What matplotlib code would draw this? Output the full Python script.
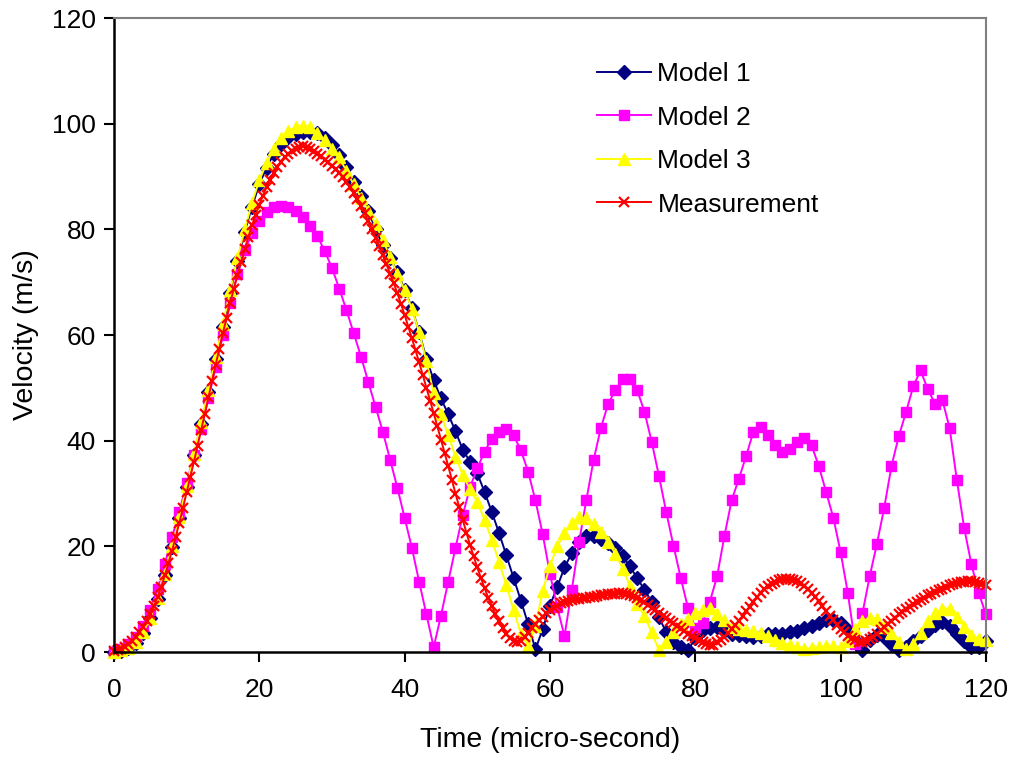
import numpy as np
import matplotlib
matplotlib.use("Agg")
import matplotlib.pyplot as plt

plt.rcParams['font.family'] = ['Liberation Sans', 'DejaVu Sans']

# time axes (micro-second)
t_model = np.arange(0, 121, 1)
t_meas = np.arange(0, 120.5, 0.5)

model1 = [0, 0.2, 0.7, 1.7, 3.6, 6.4, 10, 14.6, 19.8, 25.3,
          31.2, 37.2, 43.2, 49.2, 55.4, 61.6, 68, 74, 79.5, 84.3,
          88.5, 91.7, 94.3, 96.2, 97.4, 98.1, 98.4, 98.5, 98.2, 97.3,
          96, 94, 91.8, 89, 86.3, 83.5, 80, 77, 74.5, 72,
          68.5, 65.2, 60.5, 55.5, 51.5, 48, 45, 41.8, 38.3, 36,
          33.8, 30.3, 26.5, 22.5, 18.3, 14, 9.7, 5.3, 0.5, 4.3,
          8.8, 12.3, 16, 18.7, 20.8, 22, 22, 21.3, 20.6, 19.6,
          18.1, 16.2, 14, 11.8, 9.5, 6.6, 3.7, 1.9, 0.9, 0.3,
          2.6, 4.1, 4.6, 4.7, 4, 3.5, 3.2, 3, 2.8, 3.1,
          3.5, 3.5, 3.5, 3.8, 4, 4.5, 5, 5.5, 6, 6,
          5.5, 4.1, 2.2, 0.3, 2.2, 3.2, 2.8, 1.6, 0.3, 1,
          2, 3, 4.2, 5.2, 5.7, 5, 3.5, 2, 1, 1,
          2]

model2 = [0, 0.5, 1.5, 2.8, 5, 8, 12, 16.7, 21.8, 26.5,
          32, 37.2, 42.3, 48, 54, 60, 66, 71.5, 76, 79.3,
          81.5, 83.2, 84.2, 84.5, 84.2, 83.5, 82.3, 80.7, 78.7, 75.9,
          72.7, 68.8, 64.7, 60.3, 55.9, 51.1, 46.4, 41.7, 36.4, 31.1,
          25.4, 19.7, 13.3, 7.1, 0.9, 6.9, 13.3, 19.7, 25.9, 31.2,
          34.8, 37.9, 40.4, 41.7, 42.3, 41, 38.2, 34.1, 28.7, 22.3,
          14.8, 8.5, 3, 11.7, 20.8, 28.7, 36.3, 42.4, 46.9, 49.6,
          51.6, 51.6, 49.6, 45.5, 39.8, 33.3, 26.5, 20.1, 14, 8.3,
          4.5, 5.5, 9.5, 14.3, 21.9, 28.7, 32.8, 37.1, 41.7, 42.6,
          41, 39.1, 37.9, 38.5, 39.8, 40.6, 39.1, 35.2, 30.3, 25.4,
          18.9, 11.1, 1.5, 7.3, 14.3, 20.5, 27.3, 35.2, 40.8, 45.4,
          50.3, 53.3, 49.7, 47, 47.7, 42.4, 32.5, 23.5, 16.6, 11.2,
          7.1]

model3 = [0, 0.3, 0.8, 1.8, 3.7, 6.5, 10.2, 14.8, 20, 25.5,
          31.5, 37.5, 43.5, 49.5, 55.8, 62, 68.5, 74.5, 80, 85,
          89.3, 92.5, 95.2, 97.3, 98.6, 99.3, 99.6, 99.3, 98.3, 96.9,
          95.3, 93.6, 91, 88.5, 86, 83.5, 81, 78, 74.8, 71.5,
          68.5, 65, 60.5, 55, 49, 45, 41, 37, 33.5, 30.8,
          28.4, 25, 21.2, 17, 12.6, 7.9, 3.5, 1.2, 5, 11.5,
          16.3, 20, 22.5, 24.5, 25.5, 25.3, 24.3, 22.7, 20.8, 18.6,
          15.8, 12.5, 9, 6.8, 3.7, 0.3, 1.9, 3.8, 5.3, 6.2,
          7.3, 8, 8.3, 7.2, 6, 4.8, 4.4, 4.1, 3.9, 3.6,
          3, 2.3, 1.7, 1.3, 0.9, 0.6, 0.7, 0.9, 1.2, 1.1,
          0.9, 2, 4.3, 5.8, 6.5, 6.3, 4.8, 3.6, 1.9, 0.6,
          1.5, 3.6, 5.8, 7.3, 8.2, 8.2, 6.6, 4.8, 3.3, 2.5,
          2.2]

measurement = [0.2, 0.4, 0.6, 1.0, 1.5, 2.1, 2.8, 3.7, 4.7, 5.9,
               7.2, 8.7, 10.4, 12.3, 14.5, 16.8, 19.2, 21.8, 24.5, 27.3,
               30.2, 33.1, 36.0, 39.0, 42.0, 45.1, 48.2, 51.3, 54.4, 57.4,
               60.4, 63.3, 66.1, 68.8, 71.4, 73.9, 76.3, 78.6, 80.8, 82.8,
               84.7, 86.4, 88.0, 89.4, 90.7, 91.8, 92.8, 93.6, 94.3, 94.9,
               95.3, 95.6, 95.7, 95.5, 95.2, 94.8, 94.3, 93.8, 93.2, 92.7,
               92.0, 91.4, 90.7, 89.9, 89.0, 88.0, 86.9, 85.7, 84.4, 83.0,
               81.5, 80.0, 78.4, 76.8, 75.1, 73.4, 71.6, 69.8, 67.9, 65.9,
               63.8, 61.6, 59.4, 57.1, 54.8, 52.4, 50.0, 47.6, 45.2, 42.7,
               40.2, 37.7, 35.2, 32.6, 30.0, 27.5, 25.0, 22.6, 20.3, 18.1,
               16.0, 14.0, 12.1, 10.3, 8.7, 7.2, 5.8, 4.6, 3.5, 2.6,
               2.0, 1.8, 2.1, 2.8, 3.6, 4.5, 5.3, 6.0, 6.7, 7.3,
               7.9, 8.4, 8.8, 9.2, 9.5, 9.7, 9.9, 10.0, 10.1, 10.2,
               10.3, 10.4, 10.5, 10.6, 10.7, 10.8, 10.9, 11.0, 11.0, 11.1,
               11.1, 11.0, 10.8, 10.6, 10.3, 9.9, 9.4, 8.9, 8.4, 7.9,
               7.4, 6.9, 6.4, 5.9, 5.4, 4.9, 4.5, 4.0, 3.5, 3.0,
               2.6, 2.2, 1.8, 1.5, 1.3, 1.4, 1.8, 2.3, 2.9, 3.6,
               4.3, 5.1, 5.9, 6.8, 7.7, 8.6, 9.5, 10.4, 11.2, 11.9,
               12.5, 12.9, 13.3, 13.6, 13.8, 13.9, 13.9, 13.7, 13.4, 13.0,
               12.5, 11.9, 11.2, 10.4, 9.6, 8.7, 7.8, 6.9, 6.0, 5.2,
               4.4, 3.7, 3.1, 2.6, 2.2, 1.9, 1.8, 2.0, 2.4, 2.9,
               3.5, 4.1, 4.7, 5.3, 5.9, 6.5, 7.1, 7.6, 8.1, 8.6,
               9.1, 9.5, 9.9, 10.3, 10.7, 11.0, 11.4, 11.7, 12.0, 12.3,
               12.6, 12.8, 13.0, 13.2, 13.3, 13.4, 13.4, 13.3, 13.1, 12.9,
               12.6]

fig = plt.figure(figsize=(10.13, 7.57), dpi=100)
ax = fig.add_axes([0.1125, 0.1387, 0.8608, 0.8375])

ax.plot(t_model, model1, color='#000080', marker='D', markersize=7, lw=1.4,
        label='Model 1', clip_on=False)
ax.plot(t_model, model2, color='#FF00FF', marker='s', markersize=7.5, lw=1.4,
        label='Model 2', clip_on=False)
ax.plot(t_model, model3, color='#FFFF00', marker='^', markersize=9, lw=1.4,
        label='Model 3', clip_on=False)
ax.plot(t_meas, measurement, color='#FF0000', marker='x', markersize=6.5,
        markeredgewidth=1.6, lw=1.4, label='Measurement', clip_on=False)

ax.set_xlim(0, 120)
ax.set_ylim(0, 120)
ax.set_xticks(np.arange(0, 121, 20))
ax.set_yticks(np.arange(0, 121, 20))

for s in ['left', 'bottom']:
    ax.spines[s].set_color('black')
    ax.spines[s].set_linewidth(1.8)
for s in ['top', 'right']:
    ax.spines[s].set_color('#808080')
    ax.spines[s].set_linewidth(1.5)

ax.tick_params(direction='out', length=7, width=1.5, labelsize=19)
ax.tick_params(axis='x', pad=12)
ax.tick_params(axis='y', pad=6)
ax.set_xlabel('Time (micro-second)', fontsize=20.5, labelpad=18)
ax.set_ylabel('Velocity (m/s)', fontsize=20.5, labelpad=9)

ax.legend(loc='upper left', bbox_to_anchor=(0.527, 0.968), frameon=False,
          fontsize=19, handlelength=2.05, handletextpad=0.23, labelspacing=0.74)

fig.savefig('out.png', dpi=100)
